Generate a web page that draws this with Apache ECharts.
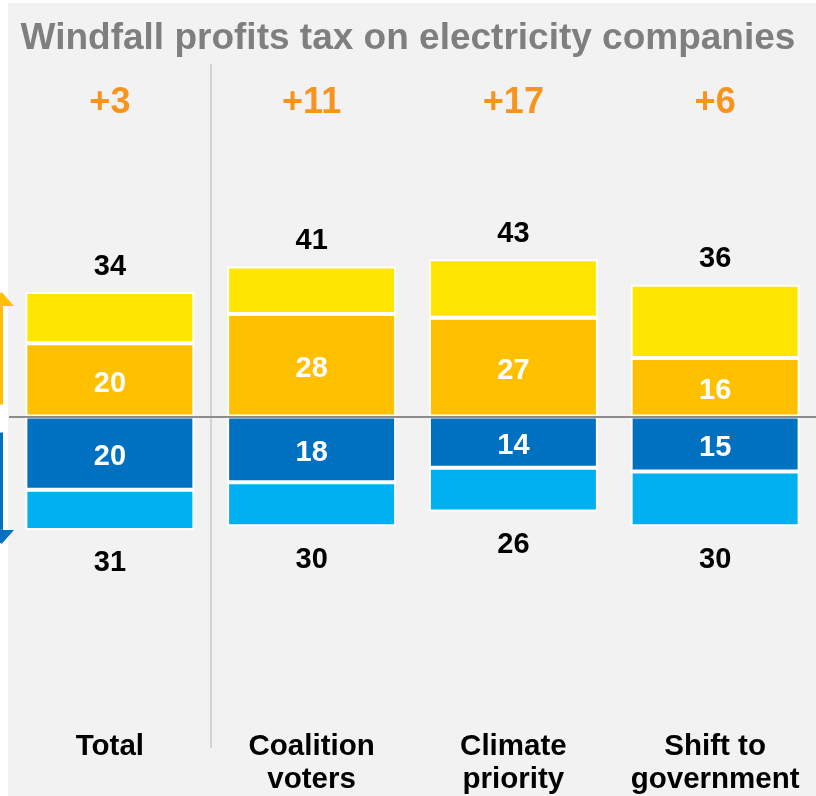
<!DOCTYPE html>
<html>
<head>
<meta charset="utf-8">
<script src="https://cdn.jsdelivr.net/npm/echarts@6/dist/echarts.min.js"></script>
<style>
  html, body { margin: 0; padding: 0; background: #ffffff; }
  #bg { position: absolute; left: 8px; top: 3px; width: 808px; height: 793px; background: #F2F2F2; }
  #chart { position: absolute; left: 0; top: 0; width: 816px; height: 796px; }
</style>
</head>
<body>
<div id="bg"></div>
<div id="chart"></div>
<script>
const categories = ['Total', 'Coalition\nvoters', 'Climate\npriority', 'Shift to\ngovernment'];
const netChange = ['+3', '+11', '+17', '+6'];
const strongSupport = [20, 28, 27, 16];
const somewhatSupport = [14, 13, 16, 20];
const strongOppose = [20, 18, 14, 15];
const somewhatOppose = [11, 12, 12, 15];
const supportTotals = [34, 41, 43, 36];
const opposeTotals = [31, 30, 26, 30];

const FONT = '"Liberation Sans", Arial, sans-serif';
const chart = echarts.init(document.getElementById('chart'), null, { renderer: 'canvas' });

const barBase = {
  type: 'bar',
  stack: 'all',
  barWidth: 169
};
const innerLabel = {
  show: true, position: 'inside', color: '#ffffff', offset: [0, 4],
  fontSize: 29, fontWeight: 'bold', fontFamily: FONT
};

chart.setOption({
  backgroundColor: 'transparent',
  animation: false,
  title: {
    text: 'Windfall profits tax on electricity companies',
    left: 'center', top: 15,
    textStyle: { color: '#7F7F7F', fontSize: 37, fontWeight: 'bold', fontFamily: FONT }
  },
  grid: { left: 9, width: 812, top: 197, height: 439 },
  xAxis: [
    {
      type: 'category', data: categories, position: 'bottom',
      axisLine: { show: false }, axisTick: { show: false }, splitLine: { show: false },
      axisLabel: { margin: 94, color: '#000000', fontSize: 29.5, fontWeight: 'bold', lineHeight: 33, fontFamily: FONT, interval: 0 }
    },
    {
      type: 'category', data: netChange, position: 'top',
      axisLine: { show: false }, axisTick: { show: false }, splitLine: { show: false },
      axisLabel: { margin: 76, color: '#F7941D', fontSize: 36, fontWeight: 'bold', fontFamily: FONT, interval: 0 }
    }
  ],
  yAxis: {
    type: 'value', min: -60, max: 60, show: false, splitLine: { show: false }
  },
  series: [
    Object.assign({}, barBase, {
      name: 'Strongly support', data: strongSupport,
      itemStyle: { color: '#FFC000', borderColor: '#ffffff', borderWidth: 2 },
      label: innerLabel
    }),
    Object.assign({}, barBase, {
      name: 'Somewhat support', data: somewhatSupport,
      itemStyle: { color: '#FFE600', borderColor: '#ffffff', borderWidth: 2 },
      label: {
        show: true, position: 'top', distance: 11, color: '#000000',
        fontSize: 29, fontWeight: 'bold', fontFamily: FONT,
        formatter: p => String(supportTotals[p.dataIndex])
      }
    }),
    Object.assign({}, barBase, {
      name: 'Strongly oppose', data: strongOppose.map(v => -v),
      itemStyle: { color: '#0070C0', borderColor: '#ffffff', borderWidth: 2 },
      label: Object.assign({}, innerLabel, { formatter: p => String(strongOppose[p.dataIndex]) })
    }),
    Object.assign({}, barBase, {
      name: 'Somewhat oppose', data: somewhatOppose.map(v => -v),
      itemStyle: { color: '#00B0F0', borderColor: '#ffffff', borderWidth: 2 },
      label: {
        show: true, position: 'bottom', distance: 19, color: '#000000',
        fontSize: 29, fontWeight: 'bold', fontFamily: FONT,
        formatter: p => String(opposeTotals[p.dataIndex])
      },
      markLine: {
        silent: true, symbol: 'none', animation: false,
        label: { show: false },
        lineStyle: { color: '#8C8C8C', width: 2, type: 'solid' },
        data: [{ yAxis: 0 }]
      }
    })
  ]
});

// decorations positioned through the axes
const x0 = chart.convertToPixel({ xAxisIndex: 0 }, categories[0]);
const x1 = chart.convertToPixel({ xAxisIndex: 0 }, categories[1]);
const sepX = Math.round((x0 + x1) / 2);
const yZero = chart.convertToPixel({ yAxisIndex: 0 }, 0);
const yTop = chart.convertToPixel({ yAxisIndex: 0 }, supportTotals[0]);
const yBot = chart.convertToPixel({ yAxisIndex: 0 }, -opposeTotals[0]);

function arrow(startY, tipY, color) {
  const dir = tipY < startY ? -1 : 1;
  const headLen = 14;
  const baseY = tipY - dir * headLen;
  return [
    { type: 'rect', shape: { x: -1, y: Math.min(startY, baseY), width: 4, height: Math.abs(baseY - startY) }, style: { fill: color } },
    { type: 'polygon', shape: { points: [[-11, baseY], [14, baseY], [1.5, tipY]] }, style: { fill: color } }
  ];
}

chart.setOption({
  graphic: [
    { type: 'line', shape: { x1: sepX, y1: 64, x2: sepX, y2: 748 }, style: { stroke: '#D4D4D4', lineWidth: 2 }, silent: true }
  ].concat(arrow(yZero - 12, yTop, '#FFC000'), arrow(yZero + 16, yBot + 14, '#0070C0'))
});
</script>
</body>
</html>
